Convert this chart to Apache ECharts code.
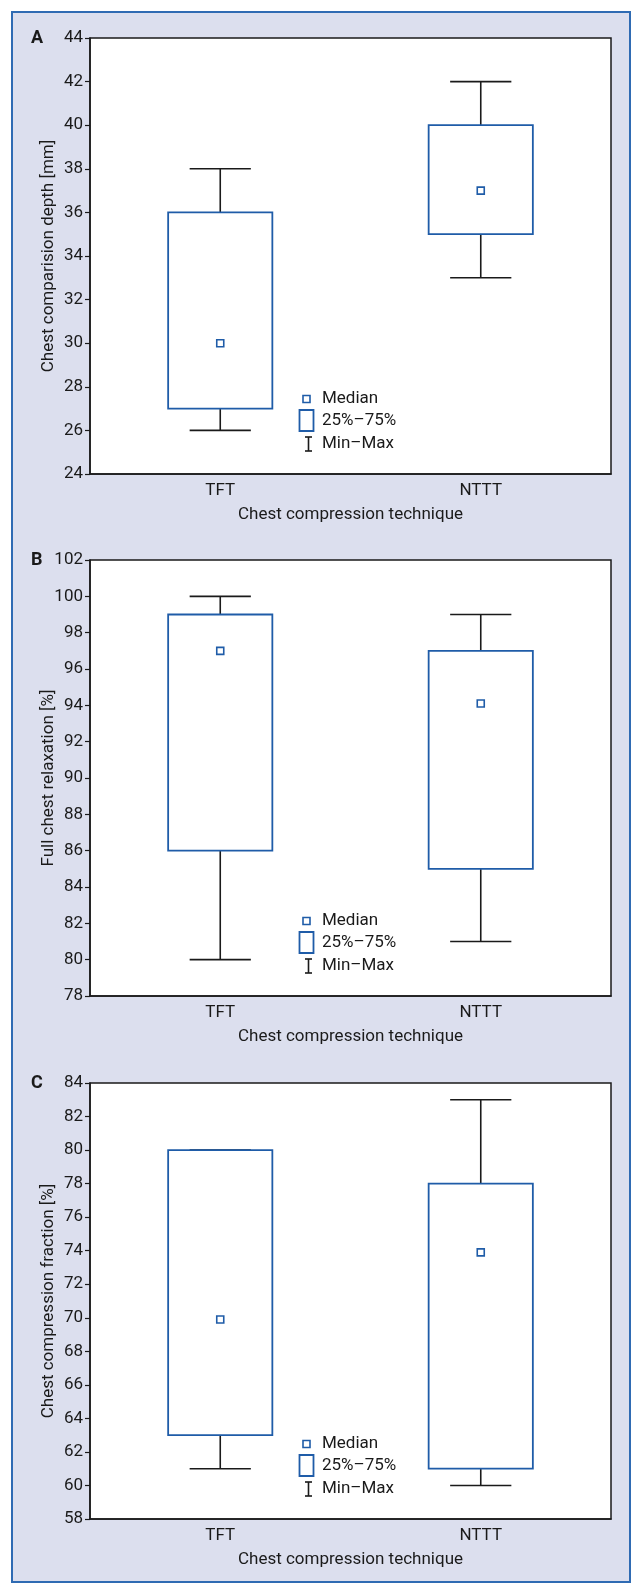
<!DOCTYPE html>
<html>
<head>
<meta charset="utf-8">
<script src="https://cdn.jsdelivr.net/npm/echarts@6/dist/echarts.min.js"></script>
<style>
  html, body { margin: 0; padding: 0; background: #ffffff; }
  #frame { position: absolute; left: 11px; top: 11px; width: 616px; height: 1568px;
           background: #dcdfee; border: 2px solid #2f6bb3; }
  #chart { position: absolute; left: 0; top: 0; width: 643px; height: 1596px; }
</style>
</head>
<body>
<div id="frame"></div>
<div id="chart"></div>
<script>
// ---- data ----
const categories = ['TFT', 'NTTT'];

const depthMin    = [26, 33];
const depthQ1     = [27, 35];
const depthMedian = [30, 37];
const depthQ3     = [36, 40];
const depthMax    = [38, 42];

const relaxMin    = [80, 81];
const relaxQ1     = [86, 85];
const relaxMedian = [97, 94.1];
const relaxQ3     = [99, 97];
const relaxMax    = [100, 99];

const fracMin     = [61, 60];
const fracQ1      = [63, 61];
const fracMedian  = [69.9, 73.9];
const fracQ3      = [80, 78];
const fracMax     = [80, 83];

const panelLetters = ['A', 'B', 'C'];
const yNames = ['Chest comparision depth [mm]', 'Full chest relaxation [%]', 'Chest compression fraction [%]'];
const xName = 'Chest compression technique';
const legendLabels = ['Median', '25%\u201375%', 'Min\u2013Max'];
const yRanges = [[24, 44], [78, 102], [58, 84]];
const yStep = 2;

// ---- style ----
const FONT = '"Liberation Sans Narrow", "Roboto", sans-serif';
const BLUE = '#1f5ca8';
const INK = '#1a1a1a';
const FS = 17;

const panels = [
  [depthMin, depthQ1, depthMedian, depthQ3, depthMax],
  [relaxMin, relaxQ1, relaxMedian, relaxQ3, relaxMax],
  [fracMin, fracQ1, fracMedian, fracQ3, fracMax]
];

const gridTops = [38, 560, 1083];
const gridH = 436;
const gridLeft = 90, gridRight = 32;

const chart = echarts.init(document.getElementById('chart'), null, {renderer: 'canvas'});

const grid = [], xAxis = [], yAxis = [], series = [], title = [], graphic = [];

panels.forEach((p, k) => {
  grid.push({left: gridLeft, right: gridRight, top: gridTops[k], height: gridH,
             show: true, backgroundColor: '#ffffff', borderColor: INK, borderWidth: 1.5});
  xAxis.push({
    gridIndex: k, type: 'category', data: categories, boundaryGap: true,
    axisLine: {lineStyle: {color: INK, width: 1.5}},
    axisTick: {alignWithLabel: true, length: 5, lineStyle: {color: INK, width: 1.2}},
    axisLabel: {color: INK, fontFamily: FONT, fontSize: FS, margin: 8},
    name: xName, nameLocation: 'middle', nameGap: 32, nameMoveOverlap: false,
    nameTextStyle: {color: INK, fontFamily: FONT, fontSize: FS},
    splitLine: {show: false}
  });
  yAxis.push({
    gridIndex: k, type: 'value', min: yRanges[k][0], max: yRanges[k][1], interval: yStep,
    axisLine: {show: true, lineStyle: {color: INK, width: 1.5}},
    axisTick: {show: true, length: 5, lineStyle: {color: INK, width: 1.2}},
    axisLabel: {color: INK, fontFamily: FONT, fontSize: FS, margin: 7},
    splitLine: {show: false},
    name: yNames[k], nameLocation: 'middle', nameGap: 33, nameRotate: 90, nameMoveOverlap: false,
    nameTextStyle: {color: INK, fontFamily: FONT, fontSize: FS}
  });
  const [mn, q1, md, q3, mx] = p;
  series.push({
    type: 'custom', xAxisIndex: k, yAxisIndex: k,
    encode: {x: 0, y: [1, 2, 3, 4, 5]},
    data: categories.map((c, i) => [i, mn[i], q1[i], md[i], q3[i], mx[i]]),
    renderItem: function (params, api) {
      const xi = api.value(0);
      const pMin = api.coord([xi, api.value(1)]);
      const pQ1 = api.coord([xi, api.value(2)]);
      const pQ3 = api.coord([xi, api.value(4)]);
      const pMax = api.coord([xi, api.value(5)]);
      const band = api.size([1, 0])[0];
      const bw = band * 0.40, cw = band * 0.235;
      const cx = pMin[0];
      const ls = {stroke: INK, lineWidth: 1.6};
      return {
        type: 'group',
        children: [
          {type: 'line', shape: {x1: cx, y1: pMax[1], x2: cx, y2: pQ3[1]}, style: ls},
          {type: 'line', shape: {x1: cx - cw / 2, y1: pMax[1], x2: cx + cw / 2, y2: pMax[1]}, style: ls},
          {type: 'line', shape: {x1: cx, y1: pQ1[1], x2: cx, y2: pMin[1]}, style: ls},
          {type: 'line', shape: {x1: cx - cw / 2, y1: pMin[1], x2: cx + cw / 2, y2: pMin[1]}, style: ls},
          {type: 'rect', shape: {x: cx - bw / 2, y: pQ3[1], width: bw, height: pQ1[1] - pQ3[1]},
           style: {fill: '#ffffff', stroke: BLUE, lineWidth: 1.8}}
        ]
      };
    },
    z: 2
  });
  series.push({
    type: 'scatter', xAxisIndex: k, yAxisIndex: k,
    data: categories.map((c, i) => [i, md[i]]),
    symbol: 'rect', symbolSize: 7,
    itemStyle: {color: '#ffffff', borderColor: BLUE, borderWidth: 1.6, opacity: 1},
    z: 5
  });
  title.push({text: panelLetters[k], left: 31, top: gridTops[k] - 9, padding: 0,
              textStyle: {fontFamily: FONT, fontSize: 18, fontWeight: 'bold', color: INK}});

  // legend (drawn as graphics inside each plot)
  const b = gridTops[k] + gridH;
  const tx = 322;
  const ts = {fontFamily: FONT, fontSize: FS, fill: INK, textVerticalAlign: 'middle'};
  graphic.push(
    {type: 'rect', shape: {x: 303, y: b - 78.5, width: 7, height: 7},
     style: {fill: '#fff', stroke: BLUE, lineWidth: 1.6}, z: 10},
    {type: 'text', x: tx, y: b - 75, style: Object.assign({text: legendLabels[0]}, ts), z: 10},
    {type: 'rect', shape: {x: 299.5, y: b - 64, width: 14, height: 21},
     style: {fill: '#fff', stroke: BLUE, lineWidth: 1.8}, z: 10},
    {type: 'text', x: tx, y: b - 53, style: Object.assign({text: legendLabels[1]}, ts), z: 10},
    {type: 'line', shape: {x1: 308.5, y1: b - 37, x2: 308.5, y2: b - 23}, style: {stroke: INK, lineWidth: 1.6}, z: 10},
    {type: 'line', shape: {x1: 305, y1: b - 37, x2: 312, y2: b - 37}, style: {stroke: INK, lineWidth: 1.6}, z: 10},
    {type: 'line', shape: {x1: 305, y1: b - 23, x2: 312, y2: b - 23}, style: {stroke: INK, lineWidth: 1.6}, z: 10},
    {type: 'text', x: tx, y: b - 30, style: Object.assign({text: legendLabels[2]}, ts), z: 10}
  );
});

chart.setOption({
  animation: false,
  backgroundColor: 'transparent',
  title, grid, xAxis, yAxis, series, graphic
});
</script>
</body>
</html>
